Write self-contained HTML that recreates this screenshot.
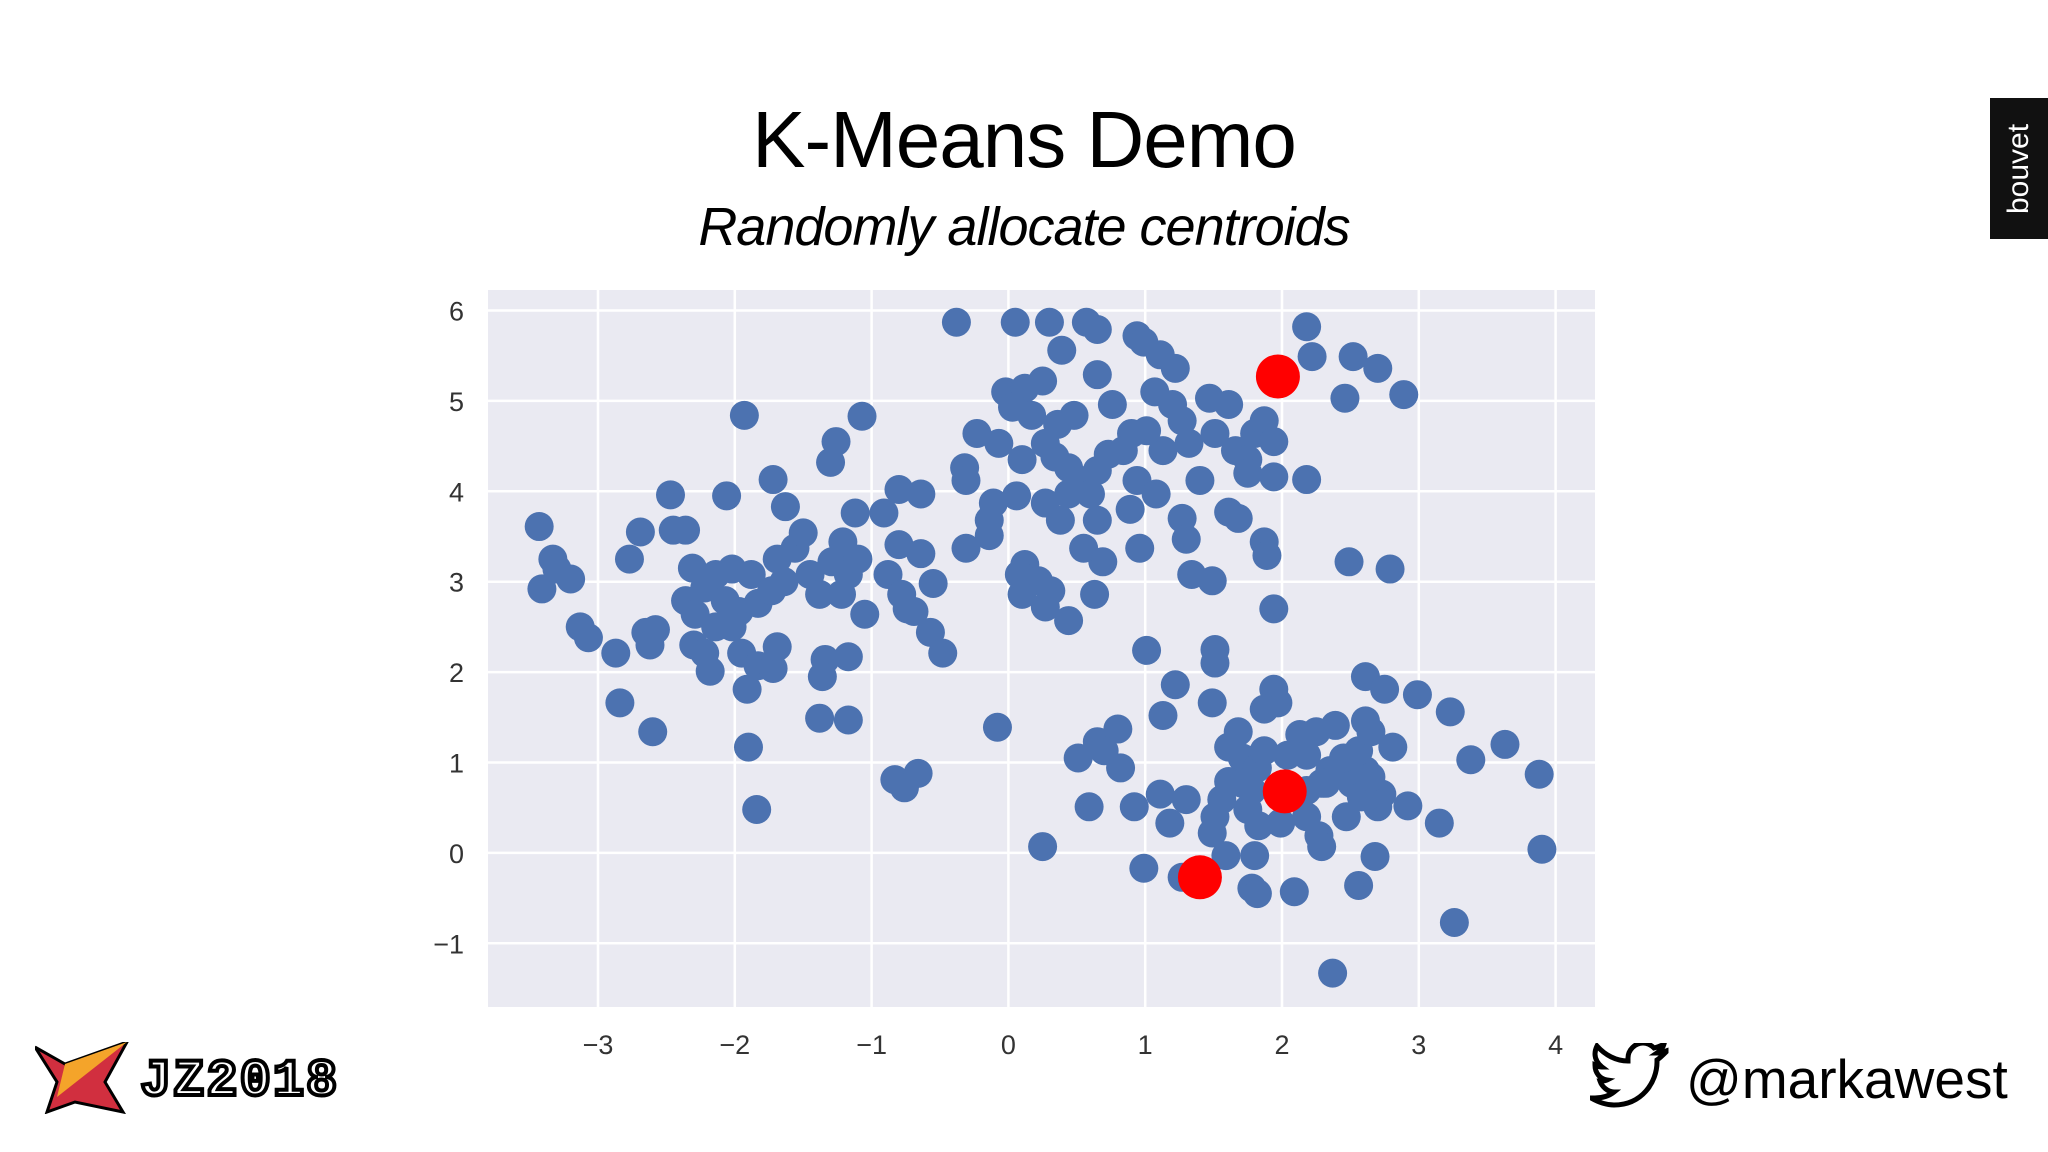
<!DOCTYPE html>
<html><head><meta charset="utf-8">
<style>
html,body{margin:0;padding:0;background:#fff;}
body{width:2048px;height:1152px;position:relative;overflow:hidden;font-family:"Liberation Sans",sans-serif;}
#title{position:absolute;left:0;width:2048px;top:100px;text-align:center;font-size:80px;color:#000;line-height:1;letter-spacing:-1px;}
#subtitle{position:absolute;left:0;width:2048px;top:200px;text-align:center;font-size:54px;font-style:italic;color:#000;line-height:1;letter-spacing:-1px;}
#bouvet{position:absolute;left:1990px;top:98px;width:58px;height:141px;background:#111;}
#bouvet span{position:absolute;left:50%;top:50%;transform:translate(-50%,-50%) rotate(-90deg);color:#fff;font-size:30px;}
#twitter{position:absolute;left:1686px;top:1047px;font-size:55px;color:#000;}
#jz{position:absolute;left:140px;top:1052px;font-size:52px;font-weight:bold;color:#fff;-webkit-text-stroke:4px #000;letter-spacing:2px;font-family:"Liberation Mono",monospace;}
</style></head><body>
<div id="title">K-Means Demo</div>
<div id="subtitle">Randomly allocate centroids</div>
<div id="bouvet"><span>bouvet</span></div>
<svg style="position:absolute;left:35px;top:1042px" width="95" height="72">
<polygon points="0,5 30,22 92,0 70,40 88,70 40,60 12,70 22,40" fill="#d12f3f" stroke="#000" stroke-width="3"/>
<polygon points="30,22 92,0 22,55" fill="#f4a42a"/>
</svg>
<div id="jz">JZ2018</div>
<svg style="position:absolute;left:1590px;top:1043px" width="80" height="68">
<path d="M76 8c-3 1-6 2-9 2 3-2 6-5 7-9-3 2-6 3-10 4C61 2 57 0 53 0c-8 0-15 7-15 15 0 1 0 2 0 3C26 18 15 12 7 3 6 5 5 8 5 11c0 5 3 10 7 13-3 0-5-1-7-2 0 8 5 14 12 15-2 1-5 1-7 1 2 6 8 11 14 11-5 4-12 6-19 6H1c7 4 15 7 23 7 28 0 43-23 43-43v-2c3-2 6-5 9-8z" fill="none" stroke="#000" stroke-width="5"/>
</svg>
<div id="twitter">@markawest</div>
<svg id="chart" width="2048" height="1152" style="position:absolute;left:0;top:0"></svg>
<script>
const xTicks=[-3,-2,-1,0,1,2,3,4];
const yTicks=[-1,0,1,2,3,4,5,6];
const tickLabels={"-3":"\u22123","-2":"\u22122","-1":"\u22121","0":"0","1":"1","2":"2","3":"3","4":"4","5":"5","6":"6"};
const pointsX=[-3.43,-3.33,-3.2,-3.41,-3.3,-3.13,-3.07,-2.87,-2.84,-2.6,-2.77,-2.69,-2.45,-2.47,-2.36,-2.65,-2.58,-2.62,-2.3,-2.18,-2.06,-1.93,-2.31,-2.22,-2.36,-2.29,-2.14,-2.02,-1.88,-2.07,-1.97,-1.83,-1.73,-1.64,-1.69,-1.56,-1.5,-1.72,-1.63,-1.95,-1.83,-1.72,-1.69,-1.91,-1.9,-1.84,-2.02,-2.14,-2.22,-1.45,-1.38,-1.29,-1.34,-1.36,-1.17,-1.38,-1.17,-1.3,-1.26,-1.07,-1.21,-1.17,-1.1,-1.22,-1.05,-1.12,-0.91,-0.8,-0.64,-0.8,-0.88,-0.78,-0.69,-0.57,-0.48,-0.55,-0.64,-0.74,-0.83,-0.76,-0.66,-0.08,-0.31,-0.32,-0.31,-0.38,-0.23,-0.11,-0.14,-0.14,0.06,0.05,0.3,0.39,0.57,0.65,0.94,0.99,1.11,1.22,-0.02,0.12,0.25,0.03,0.17,0.36,0.48,0.65,0.76,-0.07,0.1,0.27,0.34,0.44,0.53,0.65,0.73,0.6,0.44,0.27,0.38,0.65,0.89,0.94,1.08,1.13,1.01,0.9,1.07,1.2,1.27,1.32,1.4,1.47,1.61,1.51,1.66,1.75,1.8,1.87,1.94,1.75,1.94,2.18,1.61,1.68,1.27,1.3,1.87,1.89,1.34,1.49,0.96,0.69,0.55,0.12,0.22,0.31,0.1,0.27,0.44,0.63,0.08,1.94,2.18,2.22,2.52,2.7,2.89,2.46,2.49,2.79,0.84,
1.01,1.51,1.51,1.22,1.13,1.49,1.94,1.97,1.87,2.61,2.75,2.99,3.23,3.63,3.38,3.88,3.9,3.15,3.26,2.37,0.25,0.59,0.51,0.65,0.8,0.7,0.82,0.92,1.11,1.18,1.3,0.99,1.27,1.49,1.59,1.78,1.82,2.09,1.8,1.83,1.99,2.27,2.29,2.56,2.68,2.47,2.7,2.92,2.73,2.51,2.61,2.56,2.81,2.65,2.61,2.39,2.25,2.13,2.04,2.18,2.35,2.45,2.29,1.68,1.61,1.71,1.82,1.61,1.56,1.51,1.75,1.78,2.58,2.32,1.71,2.18,2.18,1.87,2.65];
const pointsY=[3.61,3.25,3.03,2.92,3.14,2.5,2.38,2.21,1.66,1.34,3.25,3.55,3.57,3.96,3.57,2.44,2.47,2.3,2.3,2.01,3.95,4.84,3.15,2.93,2.79,2.64,3.08,3.14,3.08,2.79,2.67,2.76,2.9,3.0,3.25,3.37,3.54,4.13,3.83,2.21,2.07,2.04,2.28,1.81,1.17,0.48,2.5,2.5,2.21,3.08,2.86,3.22,2.14,1.95,2.17,1.49,1.47,4.32,4.55,4.83,3.44,3.08,3.25,2.86,2.64,3.76,3.76,4.02,3.97,3.41,3.08,2.86,2.67,2.44,2.21,2.98,3.31,2.7,0.81,0.72,0.88,1.39,3.37,4.26,4.12,5.87,4.64,3.87,3.51,3.68,3.95,5.87,5.87,5.56,5.87,5.79,5.72,5.65,5.51,5.36,5.1,5.14,5.22,4.93,4.84,4.74,4.84,5.29,4.96,4.53,4.35,4.53,4.38,4.26,4.12,4.23,4.41,3.97,3.97,3.87,3.68,3.68,3.8,4.12,3.97,4.45,4.67,4.64,5.1,4.96,4.78,4.53,4.12,5.03,4.96,4.64,4.45,4.35,4.64,4.78,4.55,4.2,4.16,4.13,3.77,3.7,3.7,3.47,3.44,3.29,3.08,3.01,3.37,3.22,3.37,3.19,3.01,2.9,2.86,2.72,2.57,2.86,3.08,2.7,5.82,5.49,5.49,5.36,5.07,5.03,3.22,3.14,4.45,
2.24,2.25,2.1,1.86,1.52,1.66,1.81,1.66,1.59,1.95,1.81,1.75,1.56,1.2,1.03,0.87,0.04,0.33,-0.77,-1.33,0.07,0.51,1.05,1.23,1.37,1.13,0.94,0.51,0.65,0.33,0.59,-0.17,-0.27,0.22,-0.03,-0.39,-0.45,-0.43,-0.03,0.3,0.33,0.19,0.07,-0.36,-0.04,0.4,0.51,0.52,0.65,0.77,0.91,1.13,1.17,1.34,1.46,1.41,1.34,1.31,1.08,1.08,0.91,1.05,0.77,1.34,1.17,1.05,0.94,0.79,0.59,0.4,0.48,0.69,0.62,0.77,0.77,0.69,0.4,1.13,0.84];
const centroidsX=[1.97,2.02,1.4];
const centroidsY=[5.27,0.68,-0.27];

const NS="http://www.w3.org/2000/svg";
const svg=document.getElementById('chart');
const L=488,R=1595,T=290,B=1007;
const xs=v=>1008.4+v*136.8;
const ys=v=>852.9-v*90.4;
function mk(tag,attrs){const e=document.createElementNS(NS,tag);for(const k in attrs)e.setAttribute(k,attrs[k]);svg.appendChild(e);return e;}
let bg=mk('rect',{x:L,y:T,width:R-L,height:B-T,fill:'#eaeaf2'});


xTicks.forEach(t=>{
  const g=mk('line',{x1:xs(t),x2:xs(t),y1:T,y2:B,stroke:'#fff','stroke-width':2.5});
  
  
  const tx=mk('text',{x:xs(t),y:1054,'text-anchor':'middle','font-size':27,fill:'#333','font-family':'Liberation Sans, sans-serif'});
  tx.textContent=tickLabels[String(t)];
  
  
});
yTicks.forEach(t=>{
  const g=mk('line',{x1:L,x2:R,y1:ys(t),y2:ys(t),stroke:'#fff','stroke-width':2.5});
  
  
  const tx=mk('text',{x:464,y:ys(t)+10,'text-anchor':'end','font-size':27,fill:'#333','font-family':'Liberation Sans, sans-serif'});
  tx.textContent=tickLabels[String(t)];
  
  
});
for(let i=0;i<pointsX.length;i++){
  const c=mk('circle',{cx:xs(pointsX[i]),cy:ys(pointsY[i]),r:14.5,fill:'#4c72b0'});
  
  
}
for(let i=0;i<centroidsX.length;i++){
  const c=mk('circle',{cx:xs(centroidsX[i]),cy:ys(centroidsY[i]),r:22,fill:'#ff0000'});
  
  
}
</script>
</body></html>
